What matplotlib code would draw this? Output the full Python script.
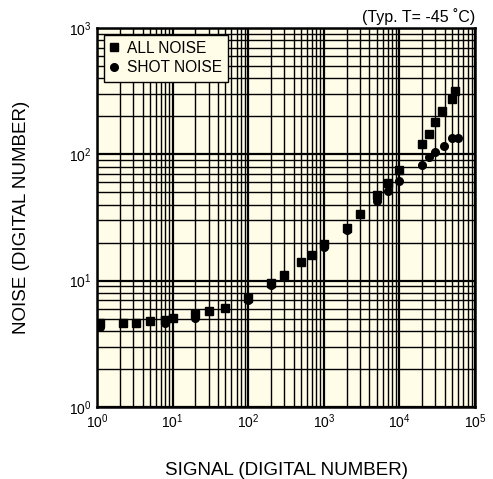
import matplotlib
matplotlib.use("Agg")
import matplotlib.pyplot as plt
from matplotlib.ticker import LogLocator, NullFormatter

plt.rcParams['font.family'] = ['Liberation Sans', 'DejaVu Sans']
plt.rcParams['mathtext.fontset'] = 'custom'
plt.rcParams['mathtext.rm'] = 'Liberation Sans'
plt.rcParams['mathtext.it'] = 'Liberation Sans:italic'
plt.rcParams['mathtext.bf'] = 'Liberation Sans:bold'

all_x = [1.1, 2.2, 3.3, 5, 8, 10, 20, 30, 50, 100, 200, 300, 500, 700, 1000,
         2000, 3000, 5000, 7000, 10000, 20000, 24500, 30000, 37000, 49000, 55000]
all_y = [4.6, 4.65, 4.65, 4.8, 4.9, 5.1, 5.4, 5.75, 6.1, 7.3, 9.5, 11.1, 14.1, 16, 19.5,
         26, 34, 48, 59, 75, 120, 144, 181, 222, 275, 318]

shot_x = [1.1, 8, 20, 100, 200, 1000, 2000, 5000, 7000, 10000, 20000, 25000, 30000,
          39000, 49000, 59000]
shot_y = [4.3, 4.6, 5.1, 7.0, 9.2, 18.5, 25, 43, 51, 62, 82, 96, 105, 117, 134, 134]

fig = plt.figure(figsize=(4.93, 4.79), dpi=100)
ax = fig.add_axes([0.1968, 0.1503, 0.7667, 0.7912])
ax.set_facecolor('#FFFCE8')
ax.set_xscale('log')
ax.set_yscale('log')
ax.set_xlim(1, 1e5)
ax.set_ylim(1, 1e3)

ax.xaxis.set_minor_locator(LogLocator(base=10, subs=range(2, 10), numticks=20))
ax.yaxis.set_minor_locator(LogLocator(base=10, subs=range(2, 10), numticks=20))
ax.xaxis.set_minor_formatter(NullFormatter())
ax.yaxis.set_minor_formatter(NullFormatter())
ax.grid(which='major', color='black', linewidth=1.6)
ax.grid(which='minor', color='black', linewidth=1.0)
ax.set_axisbelow(True)
ax.tick_params(which='both', length=0, labelsize=10, pad=4)

for s in ax.spines.values():
    s.set_linewidth(1.8)

ax.plot(all_x, all_y, 's', color='black', markersize=6, label='ALL NOISE', zorder=3)
ax.plot(shot_x, shot_y, 'o', color='black', markersize=5.5, label='SHOT NOISE', zorder=3)

leg = ax.legend(loc='upper left', bbox_to_anchor=(0.005, 0.995), fontsize=11.2,
                frameon=True, fancybox=False, handlelength=0.6, handletextpad=0.5,
                borderpad=0.4, labelspacing=0.3, borderaxespad=0.3)
leg.get_frame().set_facecolor('#FFFCE8')
leg.get_frame().set_edgecolor('black')
leg.get_frame().set_linewidth(1.0)
leg.get_frame().set_alpha(1)

ax.set_xlabel('SIGNAL (DIGITAL NUMBER)', fontsize=13.5, labelpad=22)
ax.set_ylabel('NOISE (DIGITAL NUMBER)', fontsize=13.5, labelpad=28)
ax.text(1.0, 1.008, '(Typ. T= -45 ˚C)', transform=ax.transAxes, ha='right', va='bottom',
        fontsize=11.5)

fig.savefig('out.png', dpi=100)
